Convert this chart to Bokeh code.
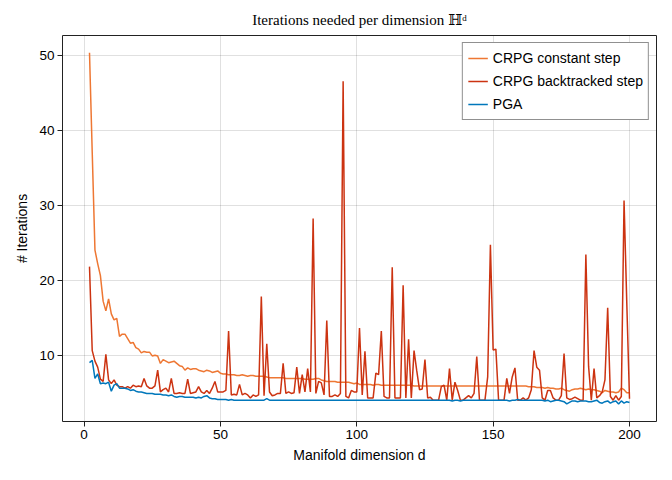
from bokeh.plotting import figure
from bokeh.models import Range1d, FixedTicker, Legend, LegendItem
from bokeh.embed import file_html
from bokeh.resources import INLINE

# ---- data (d = 2..200) ----
dims = list(range(2, 201))

crpg_constant = [
    50.3, 37.0, 24.0, 22.2, 20.6, 17.2, 15.9, 17.5, 15.5, 14.7,
    14.9, 12.5, 12.8, 12.8, 12.2, 11.6, 11.7, 11.0, 10.8, 10.3,
    10.5, 10.4, 10.4, 9.9, 10.0, 9.9, 8.9, 9.4, 9.2, 9.0,
    9.1, 9.2, 8.9, 8.6, 8.5, 8.0, 8.3, 8.1, 8.2, 8.2,
    8.0, 7.9, 7.8, 8.0, 7.9, 7.7, 7.8, 7.9, 7.6, 7.5,
    7.5, 7.4, 7.4, 7.4, 7.3, 7.3, 7.4, 7.3, 7.2, 7.3,
    7.3, 7.2, 7.2, 7.2, 7.2, 7.1, 7.0, 7.0, 7.0, 7.0,
    7.0, 7.0, 6.9, 6.9, 6.9, 6.9, 6.9, 6.9, 6.9, 6.8,
    6.8, 6.8, 6.8, 6.9, 6.9, 6.7, 6.6, 6.5, 6.5, 6.5,
    6.5, 6.4, 6.4, 6.4, 6.4, 6.4, 6.3, 6.2, 6.3, 6.1,
    6.1, 6.1, 6.1, 6.1, 6.0, 6.1, 6.1, 6.0, 6.0, 6.0,
    6.0, 6.0, 6.0, 6.0, 6.0, 6.0, 6.0, 6.0, 6.0, 5.9,
    5.9, 5.9, 5.9, 5.9, 5.9, 5.9, 5.9, 5.9, 5.9, 5.9,
    5.9, 5.9, 5.9, 5.9, 5.9, 5.9, 5.9, 5.9, 5.9, 5.9,
    5.9, 5.9, 5.9, 5.9, 5.9, 5.9, 5.9, 5.9, 5.9, 5.9,
    5.9, 5.9, 5.9, 5.9, 5.9, 5.9, 5.9, 5.9, 5.9, 5.9,
    5.9, 5.8, 5.8, 5.8, 5.7, 5.7, 5.7, 5.6, 5.7, 5.6,
    5.6, 5.5, 5.5, 5.6, 5.4, 5.3, 5.2, 5.4, 5.5, 5.5,
    5.6, 5.5, 5.4, 5.5, 5.4, 5.4, 5.3, 5.2, 5.0, 5.3,
    5.2, 5.1, 5.1, 5.0, 5.1, 5.6, 5.4, 5.0, 5.0,
]

crpg_backtracked = [
    21.8, 10.6, 9.2, 8.4, 6.8, 6.5, 10.1, 6.7, 6.2, 6.7,
    6.0, 5.8, 5.8, 5.6, 5.8, 5.6, 6.0, 5.8, 5.9, 5.8,
    6.9, 5.9, 5.6, 5.6, 5.9, 8.0, 5.1, 5.4, 5.6, 5.1,
    6.9, 4.9, 4.9, 5.0, 4.9, 4.9, 6.8, 4.9, 5.0, 5.1,
    5.8, 5.1, 4.9, 5.3, 4.9, 5.6, 6.5, 5.1, 5.1, 5.1,
    5.3, 13.2, 4.7, 4.8, 4.7, 6.1, 4.7, 4.9, 4.7, 4.3,
    4.7, 4.5, 4.7, 17.8, 4.6, 11.5, 5.1, 4.6, 4.7, 4.9,
    4.9, 8.9, 4.9, 5.1, 4.9, 5.0, 8.4, 4.9, 7.4, 5.1,
    8.2, 5.1, 28.2, 4.9, 6.5, 6.3, 4.7, 14.6, 4.5, 4.5,
    4.7, 4.5, 4.9, 46.5, 4.5, 4.3, 5.3, 5.1, 5.1, 13.6,
    4.7, 10.5, 4.3, 4.3, 4.3, 7.6, 7.4, 13.2, 4.5, 4.3,
    4.3, 21.7, 4.3, 4.3, 4.3, 19.3, 4.3, 12.1, 4.3, 10.6,
    7.9, 5.4, 5.5, 9.4, 4.3, 4.4, 4.0, 4.0, 4.0, 5.8,
    6.0, 4.0, 8.2, 4.0, 6.4, 5.3, 4.0, 4.0, 4.3, 4.6,
    4.3, 4.9, 9.8, 4.0, 4.0, 4.0, 7.1, 24.7, 10.7, 10.8,
    4.0, 4.0, 4.0, 6.9, 4.9, 7.1, 8.3, 4.0, 4.0, 4.3,
    4.0, 4.3, 5.4, 10.6, 8.4, 8.0, 4.3, 4.0, 5.3, 5.3,
    4.3, 4.0, 4.0, 4.6, 10.2, 4.3, 4.1, 4.2, 4.4, 4.2,
    4.0, 4.0, 23.4, 8.5, 4.0, 8.2, 4.3, 4.6, 5.1, 6.7,
    16.3, 4.5, 4.0, 4.6, 4.0, 4.5, 30.6, 17.0, 4.2,
]

pga = [
    9.0, 9.3, 6.9, 7.5, 6.2, 6.3, 6.2, 6.4, 5.2, 6.0,
    6.2, 5.6, 5.6, 5.6, 5.5, 5.3, 5.4, 5.2, 5.1, 5.1,
    5.0, 4.9, 4.9, 4.9, 4.8, 4.8, 4.8, 4.7, 4.7, 4.6,
    4.7, 4.5, 4.4, 4.5, 4.5, 4.4, 4.4, 4.4, 4.4, 4.3,
    4.4, 4.3, 4.5, 4.6, 4.3, 4.2, 4.2, 4.1, 4.1, 4.1,
    4.1, 4.0, 4.1, 4.0, 4.0, 4.0, 4.0, 4.0, 4.0, 4.0,
    4.0, 4.0, 4.0, 4.0, 4.0, 4.2, 4.0, 4.0, 4.0, 4.0,
    4.0, 4.0, 4.0, 4.0, 4.0, 4.0, 4.0, 4.0, 4.0, 4.0,
    4.0, 4.0, 4.0, 4.0, 4.0, 4.0, 4.0, 4.0, 4.0, 4.0,
    4.0, 4.0, 4.0, 4.0, 4.0, 4.0, 4.0, 4.0, 4.0, 4.0,
    4.0, 4.0, 4.0, 4.0, 4.0, 4.0, 4.0, 4.0, 4.0, 4.0,
    4.0, 4.0, 4.0, 4.0, 4.0, 4.0, 4.0, 4.0, 4.0, 4.0,
    4.0, 4.0, 4.0, 4.0, 4.0, 4.0, 4.0, 4.0, 4.0, 4.0,
    4.0, 4.0, 4.0, 3.9, 4.0, 4.0, 3.9, 4.0, 4.0, 4.0,
    4.0, 4.0, 4.0, 4.0, 4.0, 4.0, 4.0, 4.0, 4.0, 4.0,
    4.0, 4.0, 4.0, 4.0, 3.9, 4.0, 4.0, 4.1, 4.0, 4.0,
    4.0, 4.0, 4.0, 4.0, 4.0, 4.0, 4.0, 3.9, 4.0, 3.8,
    3.9, 4.0, 4.0, 3.9, 3.8, 3.5, 3.7, 3.9, 3.9, 3.8,
    3.9, 3.9, 3.9, 3.8, 3.8, 3.9, 4.0, 3.7, 3.6, 3.8,
    3.9, 3.6, 3.8, 3.9, 3.5, 3.9, 3.6, 3.8, 3.7,
]

series_names = ["CRPG constant step", "CRPG backtracked step", "PGA"]
series_colors = ["#EE7733", "#CC3311", "#0077BB"]
x_ticks = [0, 50, 100, 150, 200]
y_ticks = [10, 20, 30, 40, 50]

SANS = "Liberation Sans"

p = figure(width=664, height=472,
           x_range=Range1d(-7.9, 209.9), y_range=Range1d(1.16, 52.6),
           output_backend="svg", toolbar_location=None,
           title="Iterations needed per dimension \u210D\u1D48")
p.min_border_left = 62
p.min_border_right = 8
p.min_border_top = 35
p.min_border_bottom = 51

p.title.align = "center"
p.title.text_font = "'Liberation Serif', 'DejaVu Serif', 'DejaVu Sans'"
p.title.text_font_size = "15px"
p.title.text_font_style = "normal"
p.title.text_color = "black"
p.title.standoff = 15

p.outline_line_color = "#222222"
p.outline_line_width = 1
p.background_fill_color = "white"
p.border_fill_color = "white"

for ax in (p.xaxis[0], p.yaxis[0]):
    ax.axis_line_color = None
    ax.major_tick_in = 0
    ax.major_tick_out = 5
    ax.major_tick_line_color = "#222222"
    ax.minor_tick_line_color = None
    ax.major_label_text_font = SANS
    ax.major_label_text_font_size = "13.5px"
    ax.major_label_text_color = "black"
    ax.major_label_standoff = 3
    ax.axis_label_text_font = SANS
    ax.axis_label_text_font_size = "14px"
    ax.axis_label_text_font_style = "normal"
    ax.axis_label_text_color = "black"

p.xaxis.ticker = FixedTicker(ticks=x_ticks)
p.yaxis.ticker = FixedTicker(ticks=y_ticks)
p.xaxis.axis_label = "Manifold dimension d"
p.yaxis.axis_label = "# Iterations"
p.xaxis.axis_label_standoff = 5
p.yaxis.axis_label_standoff = 6

p.xgrid.ticker = FixedTicker(ticks=x_ticks)
p.ygrid.ticker = FixedTicker(ticks=y_ticks)
p.grid.grid_line_color = "black"
p.grid.grid_line_alpha = 0.12
p.grid.grid_line_width = 1

items = []
for name, ys, col in zip(series_names, [crpg_constant, crpg_backtracked, pga], series_colors):
    r = p.line(dims[:len(ys)], ys, line_color=col, line_width=1.5)
    items.append(LegendItem(label=name, renderers=[r]))

legend = Legend(items=items, location="top_right")
legend.border_line_color = "#222222"
legend.border_line_width = 1
legend.background_fill_color = "white"
legend.background_fill_alpha = 1
legend.label_text_font = SANS
legend.label_text_font_size = "14px"
legend.label_text_color = "black"
legend.padding = 5
legend.margin = 7
legend.spacing = 3
legend.glyph_width = 20
legend.glyph_height = 20
legend.label_height = 20
legend.label_standoff = 5
p.add_layout(legend, "center")

open("out.html", "w").write(file_html(p, INLINE))
